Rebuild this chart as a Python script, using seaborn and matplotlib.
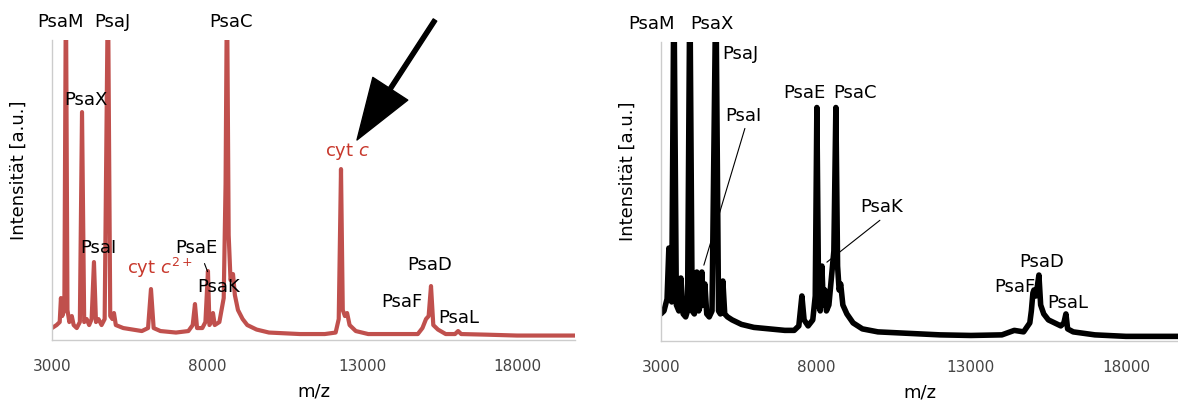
import matplotlib
matplotlib.use('Agg')
import matplotlib.pyplot as plt
import seaborn as sns

sns.set_style('white')
plt.rcParams['font.family'] = ['DejaVu Sans']
plt.rcParams['mathtext.fontset'] = 'dejavusans'
plt.rcParams['text.color'] = 'black'
plt.rcParams['axes.labelcolor'] = 'black'

# left spectrum (red), intensity as fraction of axis height, >1 = clipped
mz_left = [3000, 3150, 3250, 3290, 3330, 3400, 3450, 3500, 3560, 3640, 3700, 3800,
           3900, 3970, 4040, 4120, 4200, 4280, 4355, 4420, 4500, 4600, 4700, 4806,
           4880, 4950, 5000, 5060, 5300, 5600, 5900, 6100, 6194, 6280, 6500, 7000,
           7400, 7540, 7613, 7680, 7850, 7950, 8032, 8080, 8140, 8194, 8250, 8400,
           8540, 8600, 8645, 8700, 8760, 8840, 8900, 9000, 9150, 9300, 9600, 10000,
           11000, 11800, 12150, 12250, 12323, 12380, 12450, 12520, 12600, 12800,
           13200, 14000, 14800, 14950, 15065, 15150, 15226, 15300, 15450, 15700,
           16000, 16100, 16200, 17000, 18000, 19900]
int_left = [0.04, 0.05, 0.06, 0.14, 0.08, 0.10, 1.2, 0.10, 0.06, 0.08, 0.05, 0.04,
            0.06, 0.76, 0.06, 0.07, 0.05, 0.07, 0.26, 0.06, 0.07, 0.05, 0.07, 1.2,
            0.08, 0.07, 0.09, 0.05, 0.04, 0.035, 0.03, 0.04, 0.17, 0.04, 0.03, 0.025,
            0.03, 0.05, 0.12, 0.04, 0.04, 0.06, 0.23, 0.05, 0.06, 0.09, 0.05, 0.06,
            0.14, 0.52, 1.2, 0.35, 0.20, 0.22, 0.15, 0.10, 0.07, 0.05, 0.035, 0.025,
            0.02, 0.02, 0.025, 0.07, 0.57, 0.10, 0.08, 0.09, 0.05, 0.03,
            0.02, 0.02, 0.02, 0.04, 0.07, 0.08, 0.18, 0.05, 0.035, 0.02,
            0.02, 0.03, 0.02, 0.018, 0.015, 0.015]

# right spectrum (black)
mz_right = [3000, 3100, 3200, 3258, 3300, 3350, 3420, 3500, 3580, 3645, 3720, 3800,
            3860, 3935, 4010, 4080, 4160, 4220, 4280, 4323, 4370, 4420, 4480, 4560,
            4650, 4774, 4860, 4920, 5000, 5060, 5150, 5300, 5600, 6000, 6500, 7000,
            7300, 7450, 7549, 7620, 7750, 7900, 7980, 8032, 8090, 8140, 8194, 8240,
            8290, 8340, 8420, 8580, 8645, 8700, 8750, 8800, 8870, 9000, 9200, 9500,
            10000, 11000, 12000, 13000, 14000, 14400, 14700, 14900, 14950, 15000,
            15033, 15100, 15194, 15250, 15350, 15500, 15700, 15900, 16000, 16065,
            16120, 16300, 17000, 18000, 19700]
int_right = [0.09, 0.10, 0.14, 0.31, 0.15, 0.13, 1.2, 0.12, 0.10, 0.21, 0.09, 0.08,
             0.10, 1.2, 0.10, 0.09, 0.23, 0.10, 0.12, 0.23, 0.12, 0.19, 0.09, 0.08,
             0.10, 1.2, 0.10, 0.09, 0.20, 0.09, 0.08, 0.07, 0.055, 0.045, 0.04, 0.035,
             0.035, 0.05, 0.15, 0.07, 0.05, 0.07, 0.15, 0.78, 0.12, 0.10, 0.25, 0.12,
             0.17, 0.10, 0.12, 0.30, 0.78, 0.25, 0.17, 0.19, 0.12, 0.09, 0.06, 0.04,
             0.03, 0.025, 0.02, 0.018, 0.02, 0.035, 0.03, 0.06, 0.10, 0.16,
             0.17, 0.15, 0.22, 0.12, 0.09, 0.07, 0.06, 0.05, 0.06, 0.09,
             0.04, 0.03, 0.02, 0.015, 0.015]

# peak labels: (text, m/z, height)
labels_left = [('PsaM', 3290, 1.06), ('PsaJ', 4935, 1.06), ('PsaC', 8774, 1.06),
               ('PsaX', 4097, 0.80), ('PsaI', 4484, 0.307), ('PsaE', 7645, 0.307),
               ('PsaK', 8387, 0.177), ('PsaD', 15194, 0.25), ('PsaF', 14290, 0.127),
               ('PsaL', 16130, 0.073)]
labels_right = [('PsaM', 2710, 1.06), ('PsaX', 4645, 1.06), ('PsaJ', 5549, 0.96),
                ('PsaE', 7645, 0.83), ('PsaC', 9258, 0.83), ('PsaI', 5677, 0.75),
                ('PsaK', 10113, 0.447), ('PsaD', 15290, 0.263), ('PsaF', 14420, 0.18),
                ('PsaL', 16130, 0.127)]

xticks = [3000, 8000, 13000, 18000]
red = '#c0504d'
red_txt = '#c8382c'

fig = plt.figure(figsize=(11.78, 4.01), dpi=100)
ax1 = fig.add_axes([0.0441, 0.152, 0.444, 0.748])
ax2 = fig.add_axes([0.561, 0.150, 0.439, 0.746])

sns.lineplot(x=mz_left, y=int_left, ax=ax1, color=red, linewidth=3,
             estimator=None, sort=False)
sns.lineplot(x=mz_right, y=int_right, ax=ax2, color='black', linewidth=4,
             estimator=None, sort=False)

for ax, xmax in ((ax1, 19870), (ax2, 19680)):
    ax.set_xlim(3000, xmax)
    ax.set_ylim(0, 1)
    ax.set_xticks(xticks)
    ax.set_xticklabels([str(t) for t in xticks], fontsize=11, color='#444444')
    ax.set_yticks([])
    ax.tick_params(axis='x', length=0, pad=14)
    for s in ('top', 'right'):
        ax.spines[s].set_visible(False)
    for s in ('left', 'bottom'):
        ax.spines[s].set_color('#cccccc')
        ax.spines[s].set_linewidth(1)
    ax.set_xlabel('m/z', fontsize=13, labelpad=6)
    ax.set_ylabel('Intensität [a.u.]', fontsize=13)
    ax.yaxis.set_label_coords(-0.046, 0.567)

for txt, x, y in labels_left:
    ax1.text(x, y, txt, ha='center', va='center', fontsize=13, clip_on=False)
for txt, x, y in labels_right:
    ax2.text(x, y, txt, ha='center', va='center', fontsize=13, clip_on=False)

ax1.text(6484, 0.24, r'cyt $c^{2+}$', color=red_txt, ha='center', va='center', fontsize=13)
ax1.text(12540, 0.63, r'cyt $c$', color=red_txt, ha='center', va='center', fontsize=13)
ax1.plot([7920, 8020], [0.255, 0.228], color='black', lw=0.8)
ax1.annotate('', xy=(12839, 0.667), xytext=(15355, 1.067),
             arrowprops=dict(facecolor='black', edgecolor='black', width=3,
                             headwidth=30, headlength=44, shrink=0),
             annotation_clip=False)

ax2.plot([5710, 4387], [0.71, 0.253], color='black', lw=0.8)
ax2.plot([10065, 8355], [0.403, 0.263], color='black', lw=0.8)

fig.savefig('out.png', dpi=100)
